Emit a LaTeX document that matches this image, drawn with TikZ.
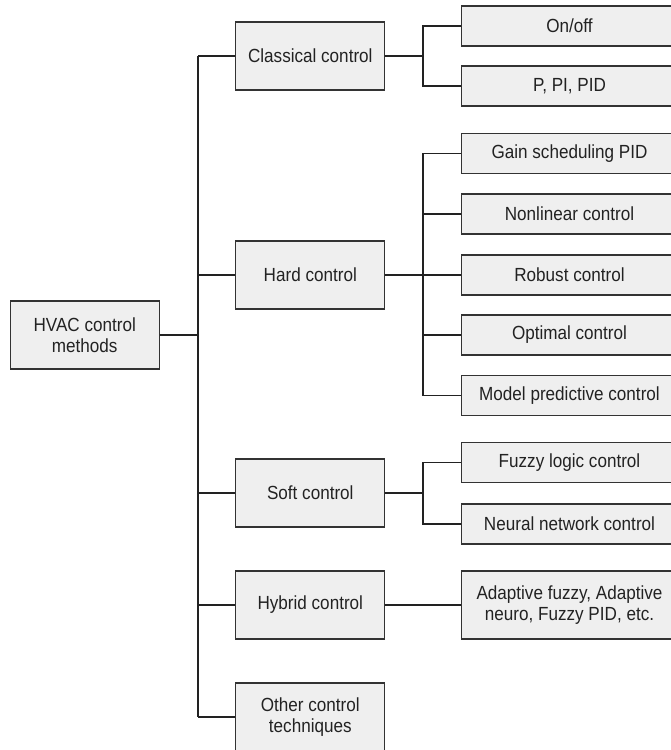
\documentclass[tikz,border=0pt]{standalone}
\usepackage{fontspec}
\setmainfont{Liberation Sans}[FakeStretch=0.9]
\definecolor{boxfill}{HTML}{EFEFEF}
\definecolor{boxline}{HTML}{333333}
\definecolor{txt}{HTML}{222222}
\begin{document}
\begin{tikzpicture}[x=1pt,y=-1pt,
  every node/.style={font=\fontsize{19}{20.5}\selectfont, text=txt, align=center, inner sep=0pt},
  lvl/.style={draw=boxline, fill=boxfill, line width=1.1pt, minimum width=149pt, minimum height=68pt},
  leaf/.style={draw=boxline, fill=boxfill, line width=1.1pt, minimum width=216pt, minimum height=40pt},
  conn/.style={draw=txt, line width=1.1pt}]
\useasboundingbox (0,0) rectangle (671,750);
\clip (0,0) rectangle (671,750);
\coordinate (tx) at (198,0);
\coordinate (sx) at (423,0);
% nodes
\node[lvl] (root) at (84.7,335) {HVAC control\\methods};
\node[lvl] (classical) at (310.3,56) {Classical control};
\node[lvl] (hard) at (310.3,275) {Hard control};
\node[lvl] (soft) at (310.3,493) {Soft control};
\node[lvl] (hybrid) at (310.3,605) {Hybrid control};
\node[lvl] (other) at (310.3,717) {Other control\\techniques};
\node[leaf] (onoff) at (569.5,26) {On/off};
\node[leaf] (ppid) at (569.5,86) {P, PI, PID};
\node[leaf] (gain) at (569.5,153.5) {Gain scheduling PID};
\node[leaf] (nonlin) at (569.5,214) {Nonlinear control};
\node[leaf] (robust) at (569.5,275) {Robust control};
\node[leaf] (optimal) at (569.5,335) {Optimal control};
\node[leaf] (mpc) at (569.5,395.5) {Model predictive control};
\node[leaf] (fuzzy) at (569.5,462.7) {Fuzzy logic control};
\node[leaf] (neural) at (569.5,524) {Neural network control};
\node[leaf, minimum height=68pt] (adaptive) at (569.5,605) {Adaptive fuzzy, Adaptive\\neuro, Fuzzy PID, etc.};
% main trunk
\draw[conn] (root.east) -- (root.east -| tx);
\draw[conn] (classical.west -| tx) -- (other.west -| tx);
\foreach \n in {classical,hard,soft,hybrid,other}
  \draw[conn] (\n.west -| tx) -- (\n.west);
% classical subtree
\draw[conn] (classical.east) -- (classical.east -| sx);
\draw[conn] (onoff.west) -- (onoff.west -| sx) -- (ppid.west -| sx) -- (ppid.west);
% hard subtree
\draw[conn] (hard.east) -- (hard.east -| sx);
\draw[conn] (gain.west) -- (gain.west -| sx) -- (mpc.west -| sx) -- (mpc.west);
\foreach \n in {nonlin,robust,optimal}
  \draw[conn] (\n.west -| sx) -- (\n.west);
% soft subtree
\draw[conn] (soft.east) -- (soft.east -| sx);
\draw[conn] (fuzzy.west) -- (fuzzy.west -| sx) -- (neural.west -| sx) -- (neural.west);
% hybrid
\draw[conn] (hybrid.east) -- (adaptive.west);
\end{tikzpicture}
\end{document}
